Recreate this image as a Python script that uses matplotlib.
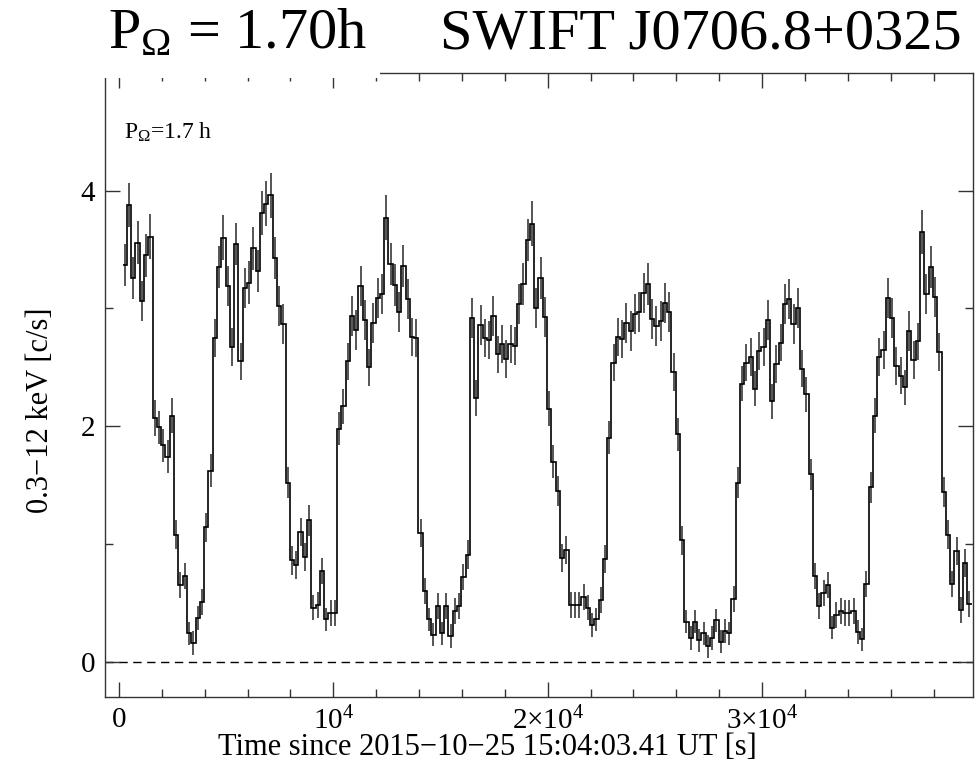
import numpy as np
import matplotlib
matplotlib.use("Agg")
import matplotlib.pyplot as plt
from matplotlib.patches import Rectangle

plt.rcParams['font.family'] = ['Liberation Serif', 'DejaVu Serif']
plt.rcParams['mathtext.fontset'] = 'custom'
plt.rcParams['mathtext.rm'] = 'Liberation Serif'
plt.rcParams['mathtext.it'] = 'Liberation Serif:italic'

# light curve, 200 s bins
t_start = 170.0
bin_s = 200.0

rate = [
    3.37, 3.88, 3.26, 3.56, 3.06, 3.45, 3.61,
    2.07, 1.99, 1.84, 1.74, 2.09,
    1.08, 0.65, 0.73, 0.24, 0.16, 0.37, 0.51,
    1.14, 1.62, 2.75, 3.35, 3.60, 3.19, 2.67, 3.55, 2.55, 3.17, 3.22, 3.51, 3.32,
    3.81, 3.89, 3.96, 3.43, 3.02, 2.87,
    1.52, 0.86, 0.82, 1.10, 0.89, 1.20, 0.46, 0.48, 0.77, 0.36, 0.41,
    0.41, 1.98, 2.17, 2.55, 2.94, 2.82, 3.19, 2.90, 2.50, 2.88, 3.09, 3.12,
    3.77, 3.38, 3.20, 2.97, 3.36, 3.08, 2.76, 2.75,
    1.09, 0.60, 0.36, 0.23, 0.47, 0.24, 0.47, 0.22, 0.43, 0.47, 0.72, 0.91,
    2.92, 2.24, 2.86, 2.75, 2.73, 2.94, 2.61, 2.70, 2.57, 2.70, 2.68, 3.04,
    3.21, 3.58, 3.72, 3.00, 3.26, 2.93,
    2.15, 1.70, 1.45, 0.88, 0.95, 0.48, 0.48, 0.48, 0.55, 0.46,
    0.31, 0.36, 0.52, 0.87, 1.90, 2.54, 2.76, 2.74, 2.88, 2.81,
    2.95, 2.97, 3.13, 3.21, 2.91, 2.85, 2.89, 3.05, 2.97, 2.46,
    1.93, 1.03, 0.34, 0.20, 0.34, 0.18, 0.24, 0.13, 0.20, 0.35,
    0.17, 0.26, 0.24, 0.53, 1.52, 2.36, 2.54, 2.59, 2.32, 2.64,
    2.67, 2.90, 2.21, 2.53, 2.71, 3.04, 3.08, 2.87, 3.00, 2.49,
    2.27, 1.59, 0.73, 0.47, 0.58, 0.65, 0.29, 0.40, 0.43, 0.41,
    0.41, 0.43, 0.25, 0.19, 0.66, 1.48, 2.09, 2.59, 2.65, 3.09,
    2.92, 2.51, 2.43, 2.33, 2.81, 2.56, 2.72, 3.65, 3.12, 3.35,
    3.10, 2.63, 1.44, 1.08, 0.66, 0.94, 0.44, 0.84, 0.49,
]

err = [
    .18, .19, .18, .18, .17, .18, .19,
    .15, .14, .14, .14, .15,
    .12, .11, .11, .10, .10, .10, .11,
    .12, .14, .16, .18, .19, .17, .16, .18, .16, .17, .18, .18, .18,
    .19, .19, .19, .18, .17, .17,
    .13, .12, .12, .12, .12, .13, .11, .11, .11, .10, .11,
    .11, .14, .15, .16, .17, .17, .17, .17, .16, .17, .17, .17,
    .19, .18, .18, .17, .18, .17, .16, .16,
    .12, .11, .10, .10, .11, .10, .11, .10, .11, .11, .11, .12,
    .17, .15, .17, .16, .16, .17, .16, .16, .16, .16, .16, .17,
    .18, .18, .19, .17, .18, .17,
    .15, .14, .13, .12, .12, .11, .11, .11, .11, .11,
    .10, .10, .11, .12, .14, .16, .16, .16, .17, .17,
    .17, .17, .17, .18, .17, .17, .17, .17, .17, .16,
    .14, .12, .10, .10, .10, .10, .10, .10, .10, .10,
    .10, .10, .10, .11, .13, .15, .16, .16, .15, .16,
    .16, .17, .15, .16, .16, .17, .17, .17, .17, .16,
    .15, .13, .11, .11, .11, .11, .10, .11, .11, .11,
    .11, .11, .10, .10, .11, .13, .15, .16, .16, .17,
    .17, .16, .16, .15, .17, .16, .16, .19, .17, .18,
    .17, .16, .13, .12, .11, .12, .11, .12, .11,
]

rate = np.array(rate)
err = np.array(err)
edges = t_start + bin_s * np.arange(len(rate) + 1)
mid = 0.5 * (edges[:-1] + edges[1:])

fig = plt.figure(figsize=(9.78, 7.67), dpi=100)
ax = fig.add_axes([0.1074, 0.0913, 0.8875, 0.8135])

ax.axhline(0, color='k', lw=1.0, ls=(0, (6, 4)), zorder=1)
ax.errorbar(mid, rate, yerr=err, fmt='none', ecolor='#555555', elinewidth=1.4, capsize=0, zorder=2)
ax.stairs(rate, edges, baseline=None, color='k', lw=1.2, zorder=3)

ax.set_xlim(-650, 39840)
ax.set_ylim(-0.3, 5.0)

ax.set_xticks([0, 1e4, 2e4, 3e4])
ax.set_xticklabels(['0', r'$10^4$', r'$2{\times}10^4$', r'$3{\times}10^4$'])
ax.set_xticks(np.arange(0, 40000, 2000), minor=True)
ax.set_yticks([0, 2, 4])
ax.set_yticks([1, 3], minor=True)
ax.tick_params(which='both', direction='in', top=True, right=True, labelsize=21, width=1.0, color='#333333')
ax.tick_params(which='major', length=11, pad=7)
ax.tick_params(which='minor', length=6)
for s in ax.spines.values():
    s.set_linewidth(1.0)
    s.set_color('#333333')

ax.set_xlabel('Time since 2015\u221210\u221225 15:04:03.41 UT [s]', fontsize=22)
ax.xaxis.set_label_coords(0.441, -0.058)
ax.set_ylabel('0.3\u221212 keV [c/s]', fontsize=22)
ax.yaxis.set_label_coords(-0.058, 0.46)

ax.text(0.022, 0.905, r'P$_\Omega$=1.7 h', transform=ax.transAxes, fontsize=17, va='center', ha='left')

# white strip hiding top spine under the left title
fig.patches.append(Rectangle((0.104, 0.898), 0.285, 0.01, transform=fig.transFigure,
                             facecolor='white', edgecolor='none', zorder=5))
fig.text(0.11, 0.937, r'P$_\Omega$ = 1.70h', fontsize=42, ha='left', va='baseline', zorder=6)
fig.text(0.45, 0.937, 'SWIFT J0706.8+0325', fontsize=42, ha='left', va='baseline', zorder=6)

fig.savefig('out.png', dpi=100)
